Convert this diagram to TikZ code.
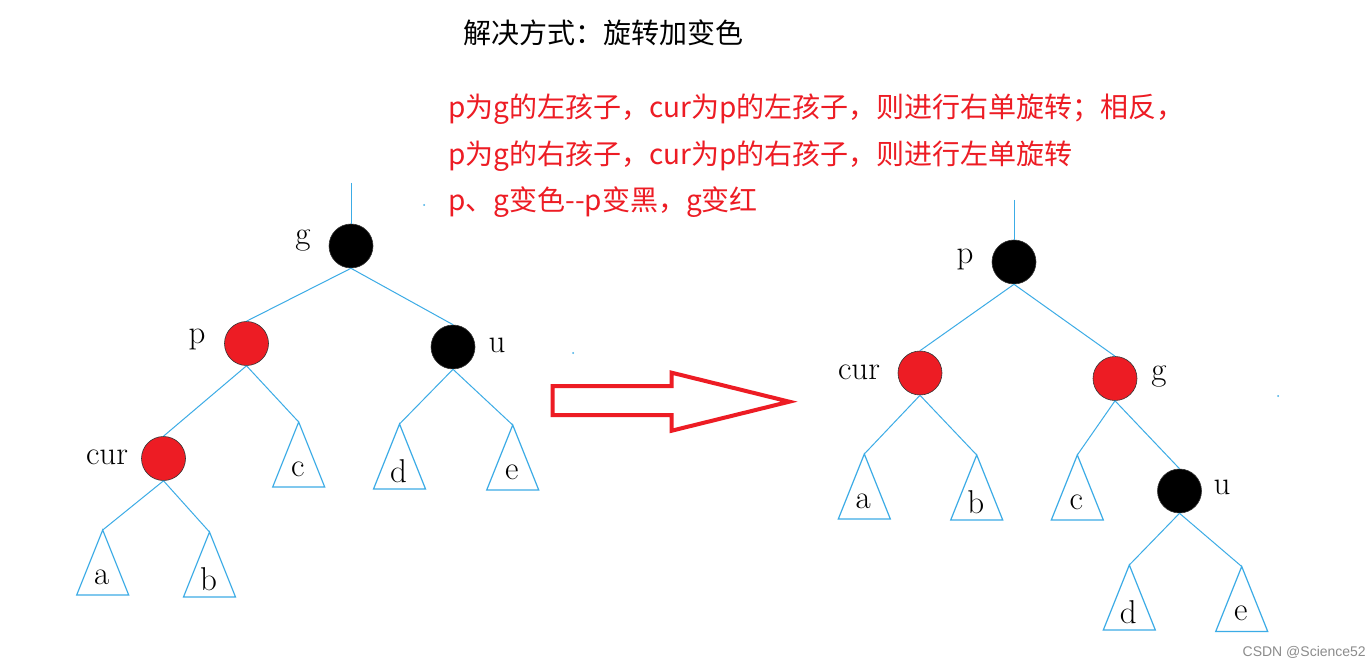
\documentclass[tikz,border=0pt]{standalone}
\usepackage{fontspec}
\newfontfamily\cjk{Noto Sans CJK SC}
\newfontfamily\wmfont{Liberation Sans}
\definecolor{treeblue}{RGB}{60,172,230}
\definecolor{rbred}{RGB}{237,28,36}
\usetikzlibrary{calc}
\tikzset{
  rb/.style={circle,minimum size=44pt,inner sep=0pt,draw=black!80,line width=0.6pt},
  blacknode/.style={rb,fill=black},
  rednode/.style={rb,fill=rbred},
  lbl/.style={font=\fontsize{33}{33}\selectfont,inner sep=0pt},
  edge/.style={draw=treeblue,line width=1pt},
  subtree/.style={draw=treeblue,line width=1.2pt},
  redtext/.style={font=\cjk\fontsize{28}{28}\selectfont,text=rbred,anchor=west,inner sep=0pt},
}
\newcommand{\subtri}[3]{% name, apex, letter
  \coordinate (#1) at #2;
  \draw[subtree] (#1) -- ++(-26,65) -- ++(52,0) -- cycle;
  \node[lbl] (#1l) at ($(#1)+(-1,47)$) {#3};
}
\begin{document}
\begin{tikzpicture}[x=1pt,y=-1pt]
\useasboundingbox[fill=white] (0,0) rectangle (1371,668);

% texts
\node[font=\cjk\fontsize{28}{28}\selectfont,anchor=west,inner sep=0pt] (title) at (463,33) {解决方式：旋转加变色};
\node[redtext] (l1) at (448,109) {p为g的左孩子，cur为p的左孩子，则进行右单旋转；相反，};
\node[redtext] (l2) at (448,156) {p为g的右孩子，cur为p的右孩子，则进行左单旋转};
\node[redtext] (l3) at (448,202) {p、g变色--p变黑，g变红};
\node[font=\wmfont\fontsize{14}{14}\selectfont,text=black!45,anchor=east,inner sep=0pt] (wm) at (1366,652) {CSDN @Science52};

% left tree
\coordinate (Ltop) at (351,183);
\node[blacknode] (Lg) at (351,246) {};
\node[rednode] (Lp) at (246.5,343.5) {};
\node[blacknode] (Lu) at (453,347) {};
\node[rednode] (Lcur) at (163.5,458.5) {};
\node[lbl] (Lgl) at (303,241) {g};
\node[lbl] (Lpl) at (197,339) {p};
\node[lbl] (Lul) at (497,345) {u};
\node[lbl] (Lcurl) at (107,457) {cur};
\subtri{La}{(102.7,530)}{a}
\subtri{Lb}{(209.5,532)}{b}
\subtri{Lc}{(298.7,422)}{c}
\subtri{Ld}{(399.5,424)}{d}
\subtri{Le}{(512.7,425)}{e}
\draw[edge] (Ltop) -- (Lg.north);
\draw[edge] (Lg.south) -- (Lp.north);
\draw[edge] (Lg.south) -- (Lu.north);
\draw[edge] (Lp.south) -- (Lcur.north);
\draw[edge] (Lp.south) -- (Lc);
\draw[edge] (Lcur.south) -- (La);
\draw[edge] (Lcur.south) -- (Lb);
\draw[edge] (Lu.south) -- (Ld);
\draw[edge] (Lu.south) -- (Le);

% arrow
\draw[draw=rbred,line width=4pt,line join=miter] (552.7,386) -- (671.7,386) -- (671.7,372.7) -- (789.3,401.7) -- (671.7,430.7) -- (671.7,415) -- (552.7,415) -- cycle;

% right tree
\coordinate (Rtop) at (1014,200);
\node[blacknode] (Rp) at (1014,262) {};
\node[rednode] (Rcur) at (920,373) {};
\node[rednode] (Rg) at (1115,378.5) {};
\node[blacknode] (Ru) at (1179.5,491) {};
\node[lbl] (Rpl) at (965,259) {p};
\node[lbl] (Rcurl) at (859,372) {cur};
\node[lbl] (Rgl) at (1159,377) {g};
\node[lbl] (Rul) at (1222,487) {u};
\subtri{Ra}{(864.3,454)}{a}
\subtri{Rb}{(976.7,455)}{b}
\subtri{Rc}{(1077.3,455)}{c}
\subtri{Rd}{(1129.3,565)}{d}
\subtri{Re}{(1241.7,566.5)}{e}
\draw[edge] (Rtop) -- (Rp.north);
\draw[edge] (Rp.south) -- (Rcur.north);
\draw[edge] (Rp.south) -- (Rg.north);
\draw[edge] (Rcur.south) -- (Ra);
\draw[edge] (Rcur.south) -- (Rb);
\draw[edge] (Rg.south) -- (Rc);
\draw[edge] (Rg.south) -- (Ru.north);
\draw[edge] (Ru.south) -- (Rd);
\draw[edge] (Ru.south) -- (Re);

% stray specks
\fill[treeblue] (424,205) circle (1pt);
\fill[treeblue] (573,353) circle (1pt);
\fill[treeblue] (1278,396) circle (1pt);
\end{tikzpicture}
\end{document}
